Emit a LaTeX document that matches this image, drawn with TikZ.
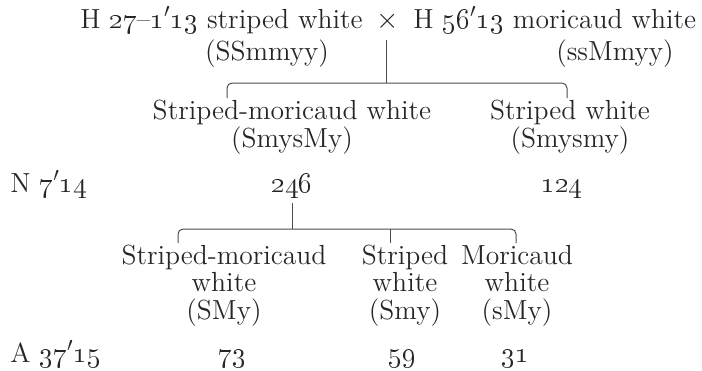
\documentclass[tikz,border=0pt]{standalone}
\usetikzlibrary{positioning}
\newcommand{\osn}[1]{\oldstylenums{#1}}
\begin{document}
\begin{tikzpicture}[x=0.5pt,y=-0.5pt,
 lbl/.style={inner sep=0pt,font=\fontsize{13.8}{13.6}\selectfont,align=center,text=black!85},
 link/.style={draw=black!70,line width=0.5pt,rounded corners=2.5pt}]
\useasboundingbox (0,0) rectangle (702,370);
% parents
\node[lbl,anchor=base] (cross) at (388,28) {$\times$};
\node[lbl,anchor=base east] (pa) at (363,28) {H \osn{27}--\osn{1}$'$\osn{13} striped white};
\node[lbl,anchor=base west] (pb) at (413,28) {H \osn{56}$'$\osn{13} moricaud white};
\node[lbl,anchor=base] (ga) at (267,60) {(SSmmyy)};
\node[lbl,anchor=base] (gb) at (615,60) {(ssMmyy)};
% first generation (base = last line)
\node[lbl,anchor=base] (c1) at (292,147) {Striped-moricaud white\\(SmysMy)};
\node[lbl,anchor=base] (c2) at (570,147) {Striped white\\(Smysmy)};
\node[lbl,anchor=base west] (rn) at (10,192) {N \osn{7}$'$\osn{14}};
\node[lbl,anchor=base] (n1) at (292,192) {\osn{246}};
\node[lbl,anchor=base] (n2) at (562,192) {\osn{124}};
% second generation
\node[lbl,anchor=base] (g1) at (224,319) {Striped-moricaud\\white\\(SMy)};
\node[lbl,anchor=base] (g2) at (405,319) {Striped\\white\\(Smy)};
\node[lbl,anchor=base] (g3) at (517,319) {Moricaud\\white\\(sMy)};
\node[lbl,anchor=base west] (ra) at (10,362) {A \osn{37}$'$\osn{15}};
\node[lbl,anchor=base] (m1) at (232,362) {\osn{73}};
\node[lbl,anchor=base] (m2) at (402,362) {\osn{59}};
\node[lbl,anchor=base] (m3) at (515,362) {\osn{31}};
% brackets
\coordinate (k1) at (386,83);
\coordinate (t1l) at (227,98);
\coordinate (t1r) at (567,98);
\coordinate (k2) at (292,229);
\coordinate (t2l) at (178,243);
\coordinate (t2m) at (390,243);
\coordinate (t2r) at (516,243);
\draw[link] (cross.base) ++(-2,12) -- (k1);
\draw[link] (t1l) |- (k1) -| (t1r);
\draw[link] (n1.base) ++(0,11) -- (k2);
\draw[link] (t2l) |- (k2) -| (t2r);
\draw[link] (t2m |- k2) -- (t2m);
\end{tikzpicture}
\end{document}
